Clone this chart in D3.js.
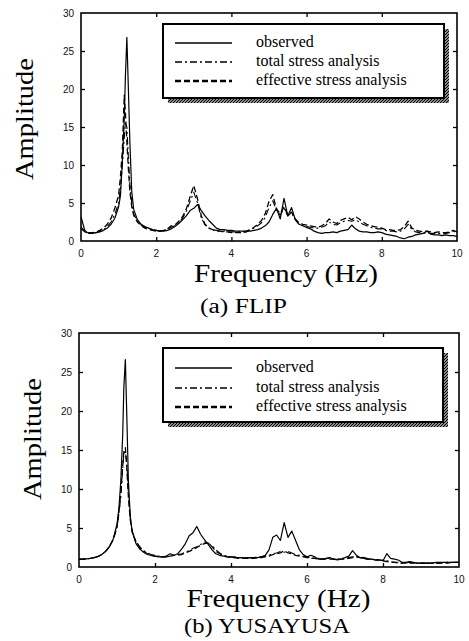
<!DOCTYPE html>
<html><head><meta charset="utf-8">
<script src="https://cdn.jsdelivr.net/npm/d3@7"></script>
<style>html,body{margin:0;padding:0;background:#fff;}svg{display:block;}</style>
</head><body>
<svg id="c" width="469" height="641"></svg>
<script>
// Frequency grid (Hz)
const freq = [0,0.1,0.2,0.3,0.4,0.5,0.6,0.7,0.8,0.9,
  1.0,1.05,1.1,1.15,1.18,1.22,1.26,1.3,1.35,1.4,
  1.5,1.6,1.7,1.8,1.9,2.0,2.1,2.2,2.3,2.4,
  2.5,2.6,2.7,2.8,2.9,3.0,3.1,3.2,3.3,3.4,
  3.5,3.6,3.7,3.8,3.9,4.0,4.1,4.2,4.3,4.4,
  4.5,4.6,4.7,4.8,4.9,5.0,5.1,5.2,5.3,5.4,
  5.5,5.6,5.7,5.8,5.9,6.0,6.1,6.2,6.3,6.4,
  6.5,6.6,6.7,6.8,6.9,7.0,7.1,7.2,7.3,7.4,
  7.5,7.6,7.7,7.8,7.9,8.0,8.1,8.2,8.3,8.4,
  8.5,8.6,8.7,8.8,8.9,9.0,9.1,9.2,9.3,9.4,
  9.5,9.6,9.7,9.8,9.9,10.0];

// (a) FLIP
const obsA = [3.2,1.4,1.0,1.0,1.1,1.2,1.4,1.7,2.2,3.0,
  4.5,6.0,10.5,16,21.5,26.8,20,13,6.5,4.2,
  2.8,2.2,1.9,1.7,1.5,1.4,1.3,1.3,1.4,1.6,
  1.9,2.3,2.8,3.3,4.0,4.3,4.8,4.0,3.3,2.7,
  2.2,1.7,1.5,1.5,1.4,1.4,1.3,1.3,1.3,1.3,
  1.3,1.4,1.5,1.7,2.0,2.5,3.5,4.3,2.9,5.6,
  3.3,4.4,2.8,2.2,2.0,1.8,1.6,1.3,1.1,1.0,
  1.1,1.1,1.2,1.1,1.3,1.4,1.5,2.1,1.6,1.3,
  1.2,1.2,1.1,1.1,1.2,1.1,0.9,0.8,0.7,0.6,
  0.4,0.3,0.5,0.6,0.8,0.9,1.0,1.3,0.9,0.8,
  0.8,0.7,0.8,0.7,0.7,0.6];
const totA = [1.6,1.2,1.0,1.0,1.1,1.3,1.5,1.9,2.5,3.5,
  5.0,7.0,10,13.5,15.5,15,11,7.5,5,3.6,
  2.6,2.1,1.8,1.6,1.5,1.4,1.3,1.4,1.5,1.8,
  2.0,2.4,3.0,3.9,5.2,6.4,5.0,3.0,2.1,1.7,
  1.5,1.4,1.3,1.3,1.2,1.2,1.2,1.2,1.2,1.3,
  1.5,1.7,2.0,2.4,3.1,4.4,5.3,4.0,3.4,4.3,
  3.3,3.7,2.8,2.2,2.0,1.9,1.8,1.7,1.7,1.8,
  2.0,2.5,2.2,2.1,2.4,2.6,2.7,2.6,2.8,2.5,
  2.2,2.0,1.8,1.7,1.6,1.6,1.4,1.3,1.3,1.2,
  1.3,1.6,2.2,1.5,1.2,1.1,1.0,1.1,1.0,1.0,
  1.0,0.9,1.0,1.1,1.3,1.0];
const effA = [1.8,1.3,1.1,1.1,1.2,1.4,1.7,2.2,3.0,4.3,
  6.0,8.5,12,19.2,17,13,9.5,6.5,4.5,3.4,
  2.5,2.0,1.7,1.5,1.4,1.3,1.3,1.4,1.6,2.0,
  2.1,2.6,3.2,4.2,5.8,7.3,5.5,3.3,2.2,1.7,
  1.5,1.3,1.3,1.2,1.2,1.1,1.1,1.1,1.1,1.2,
  1.5,1.8,2.2,2.7,3.6,5.2,6.1,4.2,3.6,4.5,
  3.4,3.8,2.9,2.4,2.2,2.1,2.0,1.9,1.8,2.0,
  2.3,2.9,2.5,2.3,2.7,2.9,3.1,2.8,3.2,2.9,
  2.5,2.2,2.0,1.9,1.8,1.7,1.5,1.5,1.4,1.4,
  1.5,1.9,2.6,1.7,1.4,1.3,1.2,1.3,1.2,1.1,
  1.2,1.1,1.1,1.2,1.4,1.2];

// (b) YUSAYUSA
const obsB = [1.0,1.0,1.05,1.1,1.2,1.35,1.6,2.0,2.6,3.6,
  5.5,7.5,11,17,23,26.6,19,11,6.5,4.5,
  3.0,2.3,1.9,1.6,1.5,1.4,1.3,1.3,1.4,1.7,
  1.5,1.7,2.3,3.0,4.0,4.4,5.2,4.2,3.5,2.9,
  2.2,1.7,1.5,1.4,1.3,1.3,1.2,1.2,1.2,1.1,
  1.2,1.2,1.2,1.3,1.5,2.2,3.8,4.1,3.4,5.7,
  3.8,4.6,3.4,2.2,1.6,1.3,1.5,1.3,1.0,1.0,
  1.1,1.2,1.0,0.9,1.0,1.2,1.4,2.1,1.5,1.2,
  1.1,1.0,1.0,0.9,0.9,0.8,1.7,1.1,1.0,0.9,
  0.6,0.6,0.7,0.6,0.5,0.5,0.5,0.5,0.5,0.6,
  0.6,0.6,0.6,0.6,0.6,0.6];
const totB = [1.0,1.0,1.05,1.1,1.2,1.35,1.6,2.0,2.6,3.5,
  5.0,6.8,9.0,12.5,14.5,14.8,13.2,9.5,6.3,4.6,
  3.3,2.6,2.1,1.8,1.6,1.5,1.4,1.3,1.3,1.4,
  1.5,1.6,1.7,1.9,2.1,2.4,2.6,2.9,3.2,3.0,
  2.8,2.2,1.8,1.5,1.4,1.3,1.3,1.2,1.2,1.2,
  1.2,1.2,1.3,1.3,1.4,1.5,1.7,1.8,2.0,1.9,
  2.0,1.8,1.6,1.5,1.4,1.3,1.2,1.1,1.1,1.0,
  1.1,1.1,1.0,1.0,1.1,1.1,1.2,1.3,1.3,1.3,
  1.2,1.1,1.0,1.0,0.9,0.9,0.8,0.7,0.6,0.6,
  0.5,0.5,0.6,0.5,0.5,0.5,0.5,0.5,0.5,0.5,
  0.5,0.6,0.6,0.6,0.6,0.6];
const effB = [1.0,1.0,1.05,1.1,1.2,1.35,1.6,2.0,2.6,3.5,
  5.2,7.0,9.5,13,14.8,15.3,12.5,9.0,6.0,4.5,
  3.2,2.5,2.0,1.7,1.5,1.4,1.3,1.3,1.3,1.4,
  1.5,1.5,1.6,1.8,2.0,2.2,2.5,2.8,3.0,3.1,
  2.6,2.0,1.7,1.5,1.3,1.2,1.2,1.1,1.1,1.1,
  1.1,1.1,1.2,1.2,1.3,1.4,1.6,1.7,1.8,2.1,
  1.8,1.7,1.5,1.4,1.3,1.2,1.1,1.1,1.0,1.0,
  1.0,1.0,1.0,1.0,1.0,1.0,1.1,1.2,1.3,1.2,
  1.1,1.0,1.0,0.9,0.9,0.8,0.7,0.6,0.6,0.5,
  0.5,0.5,0.5,0.5,0.5,0.5,0.5,0.5,0.5,0.5,
  0.5,0.5,0.5,0.6,0.6,0.6];

const xTicks = [0,2,4,6,8,10];
const yTicks = [0,5,10,15,20,25,30];
const legendLabels = ["observed","total stress analysis","effective stress analysis"];
const yTitle = "Amplitude";
const xTitle = "Frequency (Hz)";
const captions = ["(a) FLIP","(b) YUSAYUSA"];

const svg = d3.select("#c");
const defs = svg.append("defs");
const pat = defs.append("pattern").attr("id","hatch").attr("patternUnits","userSpaceOnUse")
  .attr("width",3).attr("height",3);
pat.append("rect").attr("width",3).attr("height",3).attr("fill","#fff");
pat.append("path").attr("d","M-1,1 L1,-1 M0,3 L3,0 M2,4 L4,2").attr("stroke","#000").attr("stroke-width",1.3);

const styles = [
  {dash:null, w:1.2, lw:1.6},
  {dash:"7,3,2,3", w:1.1, lw:1.5},
  {dash:"6,3", w:1.3, lw:2.6}
];

function panel(cfg){
  const x = d3.scaleLinear().domain([0,10]).range([cfg.l,cfg.r]);
  const y = d3.scaleLinear().domain([0,30]).range([cfg.b,cfg.t]);
  const g = svg.append("g");
  const cid = "clip"+cfg.id;
  defs.append("clipPath").attr("id",cid).append("rect")
    .attr("x",cfg.l).attr("y",cfg.t).attr("width",cfg.r-cfg.l).attr("height",cfg.b-cfg.t);

  // inward ticks via d3 axes
  const tl = 4;
  g.append("g").attr("transform",`translate(0,${cfg.b})`)
    .call(d3.axisTop(x).tickValues(xTicks.slice(1,-1)).tickSize(tl).tickFormat(""))
    .call(a=>a.select(".domain").remove());
  g.append("g").attr("transform",`translate(0,${cfg.t})`)
    .call(d3.axisBottom(x).tickValues(xTicks.slice(1,-1)).tickSize(tl).tickFormat(""))
    .call(a=>a.select(".domain").remove());
  g.append("g").attr("transform",`translate(${cfg.l},0)`)
    .call(d3.axisRight(y).tickValues(yTicks.slice(1,-1)).tickSize(tl).tickFormat(""))
    .call(a=>a.select(".domain").remove());
  g.append("g").attr("transform",`translate(${cfg.r},0)`)
    .call(d3.axisLeft(y).tickValues(yTicks.slice(1,-1)).tickSize(tl).tickFormat(""))
    .call(a=>a.select(".domain").remove());
  g.selectAll(".tick line").attr("stroke","#000").attr("stroke-width",1.3);

  // tick labels
  g.selectAll(".xl").data(xTicks).join("text")
    .attr("x",d=>x(d)).attr("y",cfg.b+16).attr("text-anchor","middle")
    .attr("font-family","Liberation Sans, Arial, sans-serif").attr("font-size",10).attr("fill","#111")
    .text(d=>d);
  g.selectAll(".yl").data(yTicks).join("text")
    .attr("x",cfg.l-7).attr("y",d=>y(d)+3.5).attr("text-anchor","end")
    .attr("font-family","Liberation Sans, Arial, sans-serif").attr("font-size",10).attr("fill","#111")
    .text(d=>d);

  // curves
  const series = [cfg.obs, cfg.tot, cfg.eff];
  const line = d3.line().x((d,i)=>x(freq[i])).y(d=>y(d));
  const cg = g.append("g").attr("clip-path",`url(#${cid})`);
  [2,1,0].forEach(k=>{
    cg.append("path").datum(series[k]).attr("d",line)
      .attr("fill","none").attr("stroke","#000").attr("stroke-width",styles[k].w)
      .attr("stroke-linejoin","round")
      .attr("stroke-dasharray",styles[k].dash);
  });

  // frame
  g.append("rect").attr("x",cfg.l).attr("y",cfg.t).attr("width",cfg.r-cfg.l).attr("height",cfg.b-cfg.t)
    .attr("fill","none").attr("stroke","#000").attr("stroke-width",1.6);

  // legend
  const L = cfg.leg;
  g.append("rect").attr("x",L.x+5).attr("y",L.y+5).attr("width",L.w).attr("height",L.h).attr("fill","url(#hatch)");
  g.append("rect").attr("x",L.x).attr("y",L.y).attr("width",L.w).attr("height",L.h)
    .attr("fill","#fff").attr("stroke","#000").attr("stroke-width",2);
  legendLabels.forEach((lab,k)=>{
    const ly = L.rows[k];
    g.append("line").attr("x1",L.x+12).attr("x2",L.x+69).attr("y1",ly).attr("y2",ly)
      .attr("stroke","#000").attr("stroke-width",styles[k].lw).attr("stroke-dasharray",styles[k].dash);
    g.append("text").attr("x",L.x+93).attr("y",ly+3.5)
      .attr("font-family","Liberation Serif, Times New Roman, serif").attr("font-size",16).attr("fill","#000")
      .text(lab);
  });

  // titles
  g.append("text").attr("transform",`translate(${cfg.ytx},${cfg.yty}) rotate(-90)`)
    .attr("text-anchor","middle").attr("font-family","Liberation Serif, Times New Roman, serif")
    .attr("font-size",25).attr("textLength",122).attr("lengthAdjust","spacingAndGlyphs").text(yTitle);
  g.append("text").attr("x",cfg.xtx).attr("y",cfg.xty).attr("text-anchor","middle")
    .attr("font-family","Liberation Serif, Times New Roman, serif")
    .attr("font-size",25).attr("textLength",184).attr("lengthAdjust","spacingAndGlyphs").text(xTitle);
  g.append("text").attr("x",cfg.cx).attr("y",cfg.cy).attr("text-anchor","middle")
    .attr("font-family","Liberation Serif, Times New Roman, serif")
    .attr("font-size",20).attr("textLength",cfg.cw).attr("lengthAdjust","spacingAndGlyphs").text(cfg.cap);
}

panel({id:"a", l:81, r:457, t:13, b:241, obs:obsA, tot:totA, eff:effA,
  leg:{x:163,y:24,w:281,h:74,rows:[43,62,81]},
  ytx:33, yty:119, xtx:286, xty:282, cx:243.5, cy:313, cw:87, cap:captions[0]});
panel({id:"b", l:79, r:459, t:333, b:567, obs:obsB, tot:totB, eff:effB,
  leg:{x:163,y:348,w:280,h:74,rows:[368,388,407]},
  ytx:41, yty:439, xtx:278.5, xty:607, cx:267, cy:633, cw:166, cap:captions[1]});
</script>
</body></html>
